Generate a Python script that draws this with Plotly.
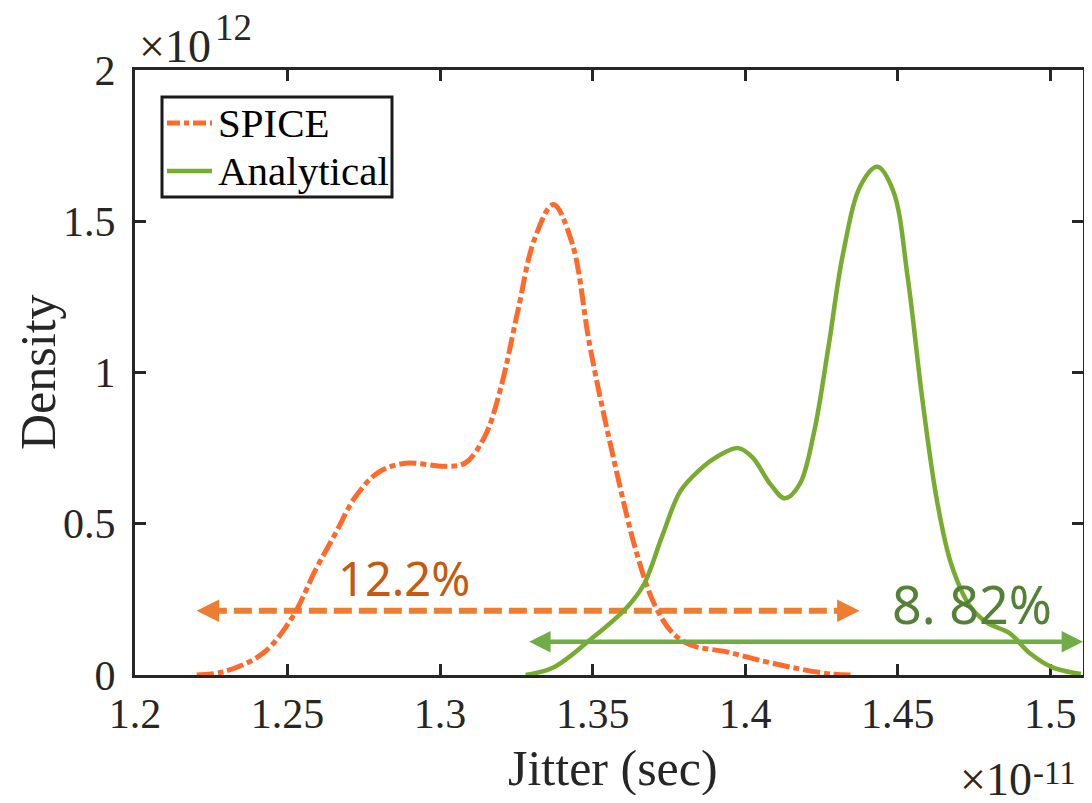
import plotly.graph_objects as go

# Jitter in units of 1e-11 s, density in units of 1e12
spice_x = [1.2202, 1.2287, 1.2417, 1.2515, 1.2593, 1.2658, 1.2723, 1.2798, 1.2886,
           1.3016, 1.3081, 1.3147, 1.3199, 1.3254, 1.3309, 1.3371, 1.3432, 1.3491,
           1.3562, 1.3645, 1.3704, 1.3762, 1.3822, 1.3941, 1.4059, 1.4178, 1.4283, 1.4355]
spice_y = [0.0, 0.01, 0.07, 0.19, 0.35, 0.47, 0.59, 0.67, 0.70,
           0.69, 0.70, 0.79, 0.95, 1.20, 1.44, 1.555, 1.43, 1.086,
           0.745, 0.40, 0.23, 0.139, 0.099, 0.076, 0.046, 0.02, 0.003, 0.0]

anal_x = [1.328, 1.3371, 1.3491, 1.3609, 1.3668, 1.3728, 1.3787, 1.3847, 1.3917,
          1.3977, 1.4023, 1.4083, 1.413, 1.4178, 1.4225, 1.4273, 1.432, 1.4379,
          1.4433, 1.4485, 1.4533, 1.458, 1.4629, 1.4675, 1.4735, 1.4794, 1.4865,
          1.4935, 1.5007, 1.51]
anal_y = [0.0, 0.025, 0.116, 0.22, 0.30, 0.46, 0.607, 0.675, 0.727,
          0.75, 0.72, 0.63, 0.584, 0.63, 0.80, 1.086, 1.39, 1.62,
          1.68, 1.60, 1.31, 0.915, 0.573, 0.367, 0.23, 0.172, 0.139,
          0.07, 0.025, 0.003]

x_ticks = [1.2, 1.25, 1.3, 1.35, 1.4, 1.45, 1.5]
x_tick_text = ["1.2", "1.25", "1.3", "1.35", "1.4", "1.45", "1.5"]
y_ticks = [0, 0.5, 1, 1.5, 2]
y_tick_text = ["0", "0.5", "1", "1.5", "2"]
x_range = [1.2, 1.5107]
y_range = [0, 2]

series_names = ["SPICE", "Analytical"]
spice_span = [1.2202, 1.4375]   # 12.2% range arrow
spice_arrow_y = 0.212
spice_label = "12.2%"
anal_span = [1.3287, 1.5107]    # 8.82% range arrow
anal_arrow_y = 0.11
anal_label = "8. 82%"

AX = "#262626"
SERIF = "Liberation Serif"
ORANGE = "#FF6A2A"
GREEN = "#77AC30"
ARROW_OR = "#ED7D31"
ARROW_GR = "#70AD47"
SPICE_DASH = "17px,4px,6px,4px"

# figure geometry (page body adds an 8px offset)
OFF = 8
FIG_W, FIG_H = 1076, 787
M_L, M_R, M_T, M_B = 127, 1, 62, 120
PW = FIG_W - M_L - M_R
PH = FIG_H - M_T - M_B


def px(xw):
    return (xw - OFF - M_L) / PW


def py(yw):
    return (OFF + M_T + PH - yw) / PH


fig = go.Figure()

# orange dashed range line (shaft)
gap = 0.004
fig.add_trace(go.Scatter(x=[spice_span[0] + gap, spice_span[1] - gap], y=[spice_arrow_y] * 2,
                         mode="lines", line=dict(color=ARROW_OR, width=6, dash="18px,7px"),
                         showlegend=False, hoverinfo="skip"))

fig.add_trace(go.Scatter(x=spice_x, y=spice_y, mode="lines", name=series_names[0],
                         showlegend=False,
                         line=dict(color=ORANGE, width=5, shape="spline", dash=SPICE_DASH)))
fig.add_trace(go.Scatter(x=anal_x, y=anal_y, mode="lines", name=series_names[1],
                         showlegend=False,
                         line=dict(color=GREEN, width=4.5, shape="spline")))

annotations = []
# orange arrowheads
d = 0.007
for tip, tail in [(spice_span[0], spice_span[0] + d), (spice_span[1], spice_span[1] - d)]:
    annotations.append(dict(x=tip, y=spice_arrow_y, ax=tail, ay=spice_arrow_y,
                            xref="x", yref="y", axref="x", ayref="y", text="",
                            showarrow=True, arrowhead=2, arrowsize=0.75,
                            arrowwidth=6, arrowcolor=ARROW_OR))
# green double arrow
annotations.append(dict(x=anal_span[1], y=anal_arrow_y, ax=anal_span[0], ay=anal_arrow_y,
                        xref="x", yref="y", axref="x", ayref="y", text="",
                        showarrow=True, arrowhead=2, startarrowhead=2, arrowside="end+start",
                        arrowsize=0.95, startarrowsize=0.95, arrowwidth=4.5,
                        arrowcolor=ARROW_GR))
# percentage labels
annotations.append(dict(x=1.288, y=0.321, xref="x", yref="y", text=spice_label,
                        showarrow=False, font=dict(family="Noto Sans", size=47, color="#C55A11")))
annotations.append(dict(x=1.4744, y=0.235, xref="x", yref="y", text=anal_label,
                        showarrow=False, font=dict(family="Noto Sans", size=52, color="#538135")))
# axis titles
annotations.append(dict(x=px(38), y=py(372), xref="paper", yref="paper", text="Density",
                        textangle=-90, showarrow=False, xanchor="center", yanchor="middle",
                        font=dict(family=SERIF, size=50, color=AX)))
annotations.append(dict(x=px(613), y=py(768), xref="paper", yref="paper", text="Jitter (sec)",
                        showarrow=False, xanchor="center", yanchor="middle",
                        font=dict(family=SERIF, size=50, color=AX)))
# exponent labels
annotations.append(dict(x=px(137), y=py(46), xref="paper", yref="paper", text="×10",
                        showarrow=False, xanchor="left", yanchor="middle",
                        font=dict(family=SERIF, size=46, color=AX)))
annotations.append(dict(x=px(213), y=py(27.5), xref="paper", yref="paper", text="12",
                        showarrow=False, xanchor="left", yanchor="middle",
                        font=dict(family=SERIF, size=37, color=AX)))
annotations.append(dict(x=px(958), y=py(779), xref="paper", yref="paper", text="×10",
                        showarrow=False, xanchor="left", yanchor="middle",
                        font=dict(family=SERIF, size=46, color=AX)))
annotations.append(dict(x=px(1031), y=py(773), xref="paper", yref="paper", text="-11",
                        showarrow=False, xanchor="left", yanchor="middle",
                        font=dict(family=SERIF, size=33, color=AX)))

# legend (box, line samples, labels)
leg_rows = [py(123), py(171)]
shapes = [dict(type="rect", xref="paper", yref="paper", x0=px(162), x1=px(392),
               y0=py(197), y1=py(97), line=dict(color="#1a1a1a", width=3),
               fillcolor="white", layer="above")]
shapes.append(dict(type="line", xref="paper", yref="paper", x0=px(167), x1=px(212),
                   y0=leg_rows[0], y1=leg_rows[0],
                   line=dict(color=ORANGE, width=5, dash="13px,4px,5px,4px")))
shapes.append(dict(type="line", xref="paper", yref="paper", x0=px(167), x1=px(212),
                   y0=leg_rows[1], y1=leg_rows[1], line=dict(color=GREEN, width=4.5)))
for name, yy in zip(series_names, leg_rows):
    annotations.append(dict(x=px(216), y=yy, xref="paper", yref="paper", text=name,
                            showarrow=False, xanchor="left", yanchor="middle",
                            font=dict(family=SERIF, size=41, color="black")))

fig.update_layout(
    width=FIG_W, height=FIG_H,
    margin=dict(l=M_L, r=M_R, t=M_T, b=M_B, autoexpand=False),
    paper_bgcolor="white", plot_bgcolor="white",
    showlegend=False,
    annotations=annotations,
    shapes=shapes,
    xaxis=dict(range=x_range, tickvals=x_ticks, ticktext=x_tick_text, automargin=False,
               showgrid=False, zeroline=False, showline=True, linecolor=AX,
               linewidth=3, mirror="ticks", ticks="inside", ticklen=11,
               tickwidth=3, tickcolor=AX, layer="below traces",
               tickfont=dict(family=SERIF, size=42, color=AX)),
    yaxis=dict(range=y_range, tickvals=y_ticks, ticktext=y_tick_text, automargin=False,
               showgrid=False, zeroline=False, showline=True, linecolor=AX,
               linewidth=3, mirror="ticks", ticks="inside", ticklen=11,
               tickwidth=3, tickcolor=AX, layer="below traces",
               tickfont=dict(family=SERIF, size=42, color=AX),
               ticklabelstandoff=8),
)

fig.write_html("out.html")
